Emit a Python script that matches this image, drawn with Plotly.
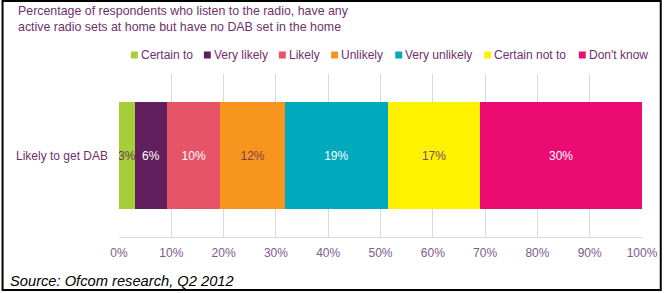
import plotly.graph_objects as go

# ---- data ----
categories = ["Certain to", "Very likely", "Likely", "Unlikely", "Very unlikely", "Certain not to", "Don't know"]
values = [3.0, 6.2, 10.2, 12.3, 19.7, 17.7, 30.9]
bar_labels = ["3%", "6%", "10%", "12%", "19%", "17%", "30%"]
row_label = ["Likely to get DAB"]
tick_vals = [0, 10, 20, 30, 40, 50, 60, 70, 80, 90, 100]
tick_text = ["0%", "10%", "20%", "30%", "40%", "50%", "60%", "70%", "80%", "90%", "100%"]

# ---- styles ----
colors = ["#a6ce39", "#621f5e", "#e55467", "#f7941d", "#00a9bd", "#fff200", "#ec0b72"]
label_colors = ["#6b3a4e", "#ffffff", "#ffffff", "#7a3f55", "#ffffff", "#7a4a6a", "#ffffff"]
FONT = "Arial, Liberation Sans, sans-serif"
PURPLE = "#70306e"
TICK = "#7e5a8e"

W, H = 670, 293
L, R, T, B = 119, 21, 74, 56
PW, PH = W - L - R, H - T - B

def px(x):
    return (x - L) / PW

def py(y):
    return (H - B - y) / PH

fig = go.Figure()
for cat, val, lab, col, lc in zip(categories, values, bar_labels, colors, label_colors):
    fig.add_trace(go.Bar(
        y=row_label, x=[val], name=cat, orientation="h",
        marker=dict(color=col, line=dict(width=0)),
        text=[lab], textposition="inside", insidetextanchor="middle", textangle=0,
        textfont=dict(color=lc, size=12, family=FONT),
        constraintext="none",
        showlegend=False, hoverinfo="skip",
    ))

shapes = []
annotations = []
# manual legend
leg_x = [131, 205, 281, 334, 399, 489, 585]
leg_y = 55
for cat, col, lx in zip(categories, colors, leg_x):
    shapes.append(dict(type="rect", xref="paper", yref="paper",
                       x0=px(lx), x1=px(lx + 7), y0=py(leg_y + 3.5), y1=py(leg_y - 3.5),
                       fillcolor=col, line=dict(width=0), layer="above"))
    annotations.append(dict(xref="paper", yref="paper", x=px(lx + 8), y=py(leg_y),
                            xanchor="left", yanchor="middle", showarrow=False,
                            text=cat, font=dict(size=12, color=PURPLE, family=FONT)))

# title
annotations.append(dict(xref="paper", yref="paper", x=px(15), y=py(2),
                        xanchor="left", yanchor="top", showarrow=False, align="left",
                        text="Percentage of respondents who listen to the radio, have any<br>active radio sets at home but have no DAB set in the home",
                        font=dict(size=12.4, color=PURPLE, family=FONT)))
# source
annotations.append(dict(xref="paper", yref="paper", x=px(7), y=py(281),
                        xanchor="left", yanchor="middle", showarrow=False,
                        text="<i>Source: Ofcom research, Q2 2012</i>",
                        font=dict(size=14.7, color="#000000", family=FONT)))

# frame
shapes.append(dict(type="rect", xref="paper", yref="paper",
                   x0=px(1), x1=px(668), y0=py(290), y1=py(1),
                   line=dict(color="#000000", width=2), fillcolor="rgba(0,0,0,0)", layer="above"))

fig.update_layout(
    width=W, height=H,
    margin=dict(l=L, r=R, t=T, b=B, pad=0),
    barmode="stack", bargap=0.344,
    paper_bgcolor="white", plot_bgcolor="white",
    font=dict(family=FONT, size=12, color=PURPLE),
    uniformtext=dict(minsize=12, mode="show"),
    shapes=shapes, annotations=annotations,
    showlegend=False,
)
fig.update_xaxes(range=[0, 100], tickvals=tick_vals, ticktext=tick_text,
                 showgrid=True, gridcolor="#d9d9d9", gridwidth=1,
                 showline=True, linecolor="#d9d9d9", linewidth=1,
                 zeroline=False, ticks="", ticklabelstandoff=5,
                 tickfont=dict(size=12, color=TICK, family=FONT), fixedrange=True)
fig.update_yaxes(showgrid=False, showline=False, zeroline=False, ticks="",
                 ticklabelstandoff=10,
                 tickfont=dict(size=12, color=PURPLE, family=FONT), fixedrange=True)

fig.write_html("out.html", config={"displayModeBar": False})
